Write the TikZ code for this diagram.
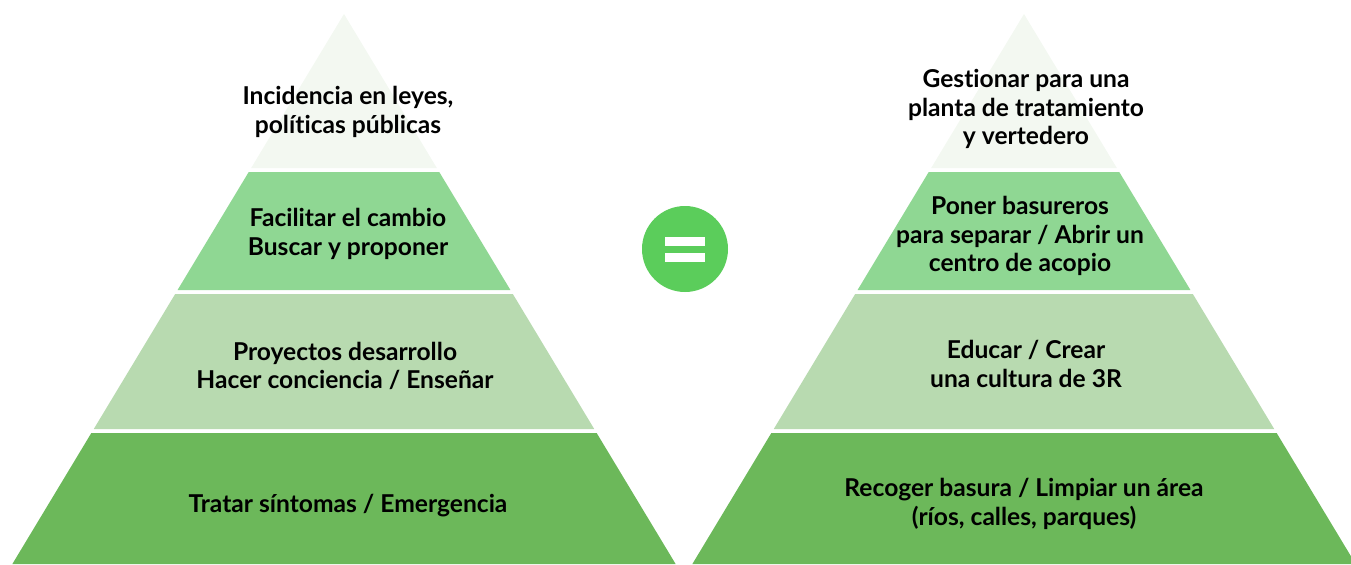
\documentclass[tikz,border=0pt]{standalone}
\usepackage{fontspec}
\setmainfont{Lato}[Ligatures={NoCommon}]
\usepackage{xcolor}
\usetikzlibrary{positioning}

\definecolor{layA}{HTML}{F3F8F1}
\definecolor{layB}{HTML}{8FD793}
\definecolor{layC}{HTML}{B8DAB0}
\definecolor{layD}{HTML}{6CB85A}
\definecolor{eqgreen}{HTML}{5BCD5B}

\tikzset{
  label text/.style={align=center, font=\fontsize{12.3}{14.4}\selectfont\bfseries, text=black, inner sep=0pt},
}

\begin{document}
\begin{tikzpicture}[x=0.5pt, y=-0.5pt]
  \useasboundingbox (0,0) rectangle (1351,564);
  % the two pyramids
  \foreach \ax in {344,1024} {
    \foreach \yt/\yb/\col in {14/168/layA, 172/290/layB, 294/429/layC, 433/564/layD} {
      \fill[\col] ({\ax-0.603*(\yt-14)},\yt) -- ({\ax+0.603*(\yt-14)},\yt)
        -- ({\ax+0.603*(\yb-14)},\yb) -- ({\ax-0.603*(\yb-14)},\yb) -- cycle;
    }
  }
  % equals sign
  \node (igual) [circle, fill=eqgreen, minimum size=43pt, inner sep=0pt] at (685,249) {};
  \fill[white] (665,237) rectangle (705,246);
  \fill[white] (665,253) rectangle (705,262);
  % left pyramid texts
  \node (incidencia) [label text] at (348,112) {Incidencia en leyes,\\políticas públicas};
  \node (facilitar) [label text] at (348,234) {Facilitar el cambio\\Buscar y proponer};
  \node (proyectos) [label text] at (345,366) {Proyectos desarrollo\\Hacer conciencia / Enseñar};
  \node (tratar) [label text] at (348,506) {Tratar síntomas / Emergencia};
  % right pyramid texts
  \node (gestionar) [label text] at (1026,109) {Gestionar para una\\planta de tratamiento\\y vertedero};
  \node (poner) [label text] at (1020,236) {Poner basureros\\para separar / Abrir un\\centro de acopio};
  \node (educar) [label text] at (1026,364) {Educar / Crear\\una cultura de 3R};
  \node (recoger) [label text] at (1024,504) {Recoger basura / Limpiar un área\\(ríos, calles, parques)};
\end{tikzpicture}
\end{document}
